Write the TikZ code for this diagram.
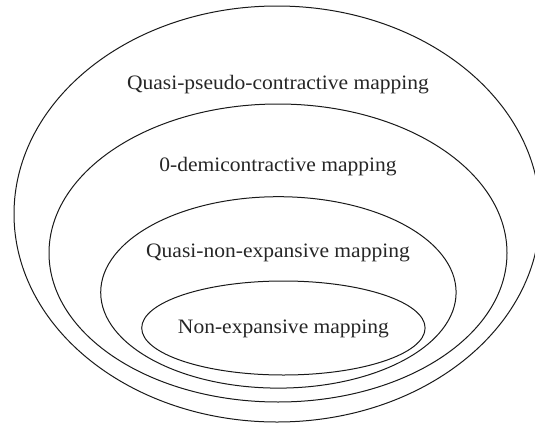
\documentclass[tikz,border=0pt]{standalone}
\usepackage{fontspec}
\setmainfont{Liberation Serif}[FakeStretch=1.05]
\begin{document}
\begin{tikzpicture}[x=1pt,y=-1pt,
  setline/.style={draw=black!90,line width=1pt},
  setlabel/.style={anchor=base,inner sep=0pt,text=black!85,font=\fontsize{20.5}{24}\selectfont}]
\useasboundingbox (0,0) rectangle (535,423);
\clip (0,0) rectangle (535,423);
% nested classes of mappings
\draw[setline] (277,214) ellipse [x radius=263,y radius=208];
\draw[setline] (278,253) ellipse [x radius=229,y radius=149];
\draw[setline] (278.4,292.4) ellipse [x radius=177.7,y radius=95.7];
\draw[setline] (283.4,328) ellipse [x radius=141.7,y radius=47];
% class names
\node[setlabel] (qpc) at (278,89) {Quasi-pseudo-contractive mapping};
\node[setlabel] (dem) at (278,171) {0-demicontractive mapping};
\node[setlabel] (qne) at (278,257) {Quasi-non-expansive mapping};
\node[setlabel] (ne) at (283.5,333) {Non-expansive mapping};
\end{tikzpicture}
\end{document}
